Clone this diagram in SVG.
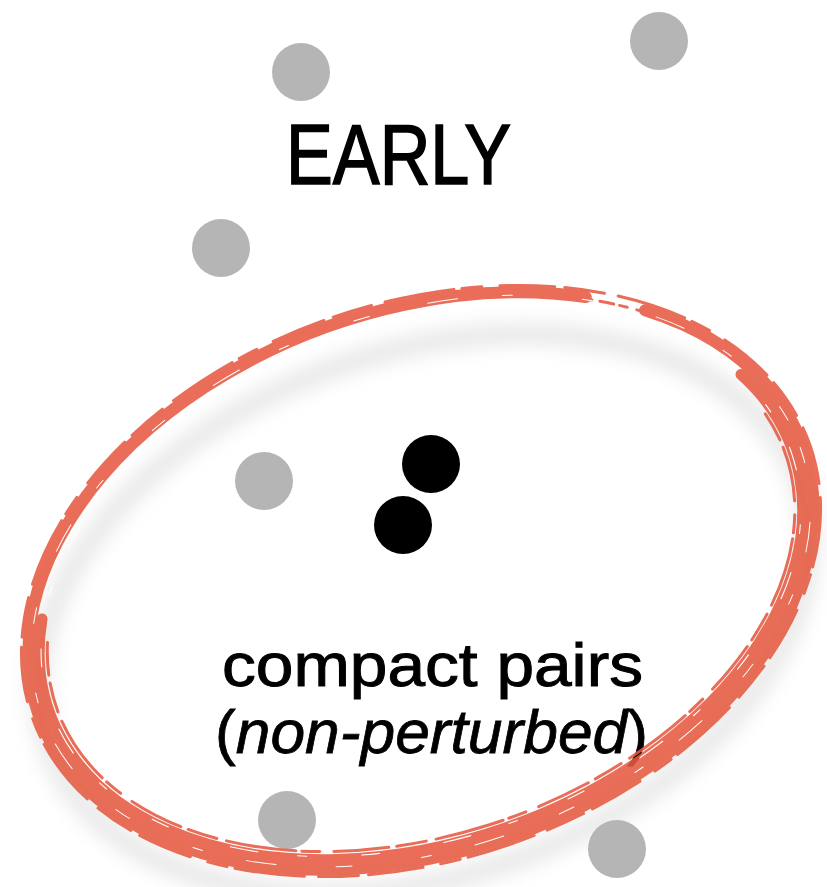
<svg xmlns="http://www.w3.org/2000/svg" width="827" height="887" viewBox="0 0 827 887">
<style>
.gray{fill:#b5b5b5}
.black{fill:#000}
.brush{fill:none;stroke:#e65a41;stroke-linecap:round}
.streak{fill:none;stroke:#fff;stroke-linecap:round}
.t{font-family:"Liberation Sans",Arial,sans-serif;fill:#000;stroke:#000}
</style>
<defs>
<filter id="blur" x="-20%" y="-20%" width="140%" height="140%"><feGaussianBlur stdDeviation="10"/></filter>
</defs>
<rect width="827" height="887" fill="#fff"/>
<g id="shadow">
<ellipse cx="424" cy="614" rx="398" ry="262" transform="rotate(-19.3 424 614)" fill="none" stroke="#e4e4e4" stroke-width="18" filter="url(#blur)"/>
</g>
<g id="gray-dots">
<circle class="gray" cx="301" cy="72" r="29"/>
<circle class="gray" cx="659" cy="41" r="29"/>
<circle class="gray" cx="221" cy="248" r="29"/>
<circle class="gray" cx="264" cy="481" r="29"/>
<circle class="gray" cx="287" cy="820" r="29"/>
<circle class="gray" cx="617" cy="849" r="29"/>
</g>
<g id="pair">
<circle class="black" cx="431" cy="464" r="29"/>
<circle class="black" cx="403" cy="525" r="29"/>
</g>
<g id="labels">
<text class="t" x="286" y="184" font-size="85" stroke-width="1.6" textLength="225" lengthAdjust="spacingAndGlyphs">EARLY</text>
<text class="t" x="222" y="686" font-size="62" stroke-width="1" textLength="421" lengthAdjust="spacingAndGlyphs">compact pairs</text>
<text class="t" x="215" y="753" font-size="62" stroke-width="0.8" textLength="433" lengthAdjust="spacingAndGlyphs">(<tspan font-style="italic">non-perturbed</tspan>)</text>
</g>
<g id="ring" opacity="0.88">
<path class="brush" stroke-width="12" d="M645,310.3 A405,271 -19.3 1 1 585.8,297"/>
<path class="brush" stroke-width="11" d="M741,374.5 A394,261 -19.3 1 1 42,619"/>
<path class="brush" stroke-width="3" d="M765.3,413.8 A386,253 -19.3 1 1 47.5,642.4" stroke-dasharray="30 8 55 14 18 6 70 10"/>
<ellipse class="brush" cx="421" cy="581" rx="412" ry="278" transform="rotate(-19.3 421 581)" stroke-width="3" stroke-dasharray="40 14 70 8 20 18 55 10"/>
<path class="brush" stroke-width="3" d="M534.2,294.5 A403,269 -19.3 0 1 666,319.7" stroke-dasharray="14 6 8 10 20 8"/>
<ellipse class="streak" cx="421" cy="581" rx="402" ry="268" transform="rotate(-19.4 421 581)" stroke-width="1" stroke-dasharray="16 60 30 45 10 70"/>
<ellipse class="streak" cx="421" cy="581" rx="392" ry="258" transform="rotate(-19.1 421 581)" stroke-width="1.1" stroke-dasharray="18 55 9 40 28 65"/>
</g>
</svg>
